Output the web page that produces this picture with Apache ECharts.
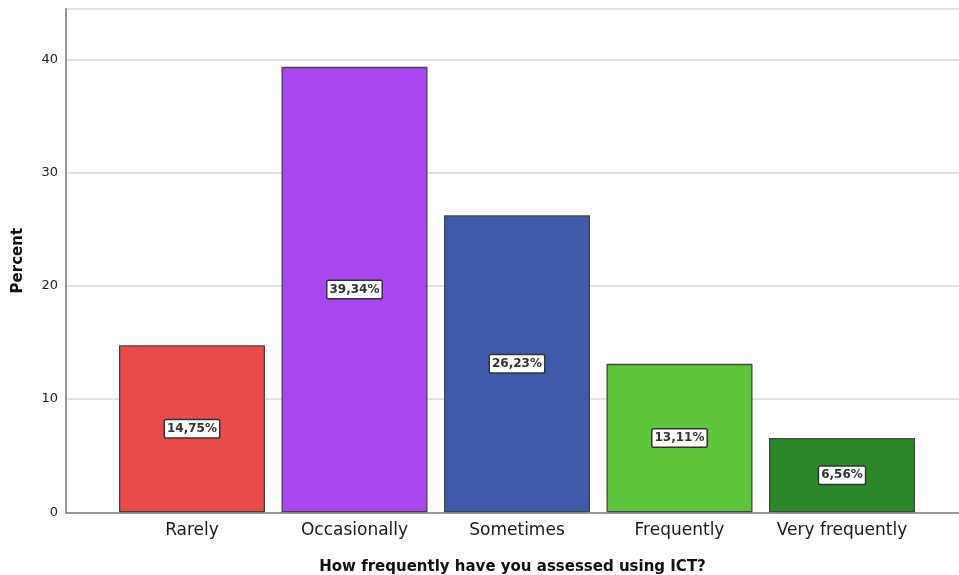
<!DOCTYPE html>
<html>
<head>
<meta charset="utf-8">
<script src="https://cdn.jsdelivr.net/npm/echarts@6/dist/echarts.min.js"></script>
<style>
  html, body { margin: 0; padding: 0; background: #fff; }
  #chart { width: 959px; height: 575px; }
</style>
</head>
<body>
<div id="chart"></div>
<script>
// Response categories and their percentages
const categories = ['Rarely', 'Occasionally', 'Sometimes', 'Frequently', 'Very frequently'];
const percents = [14.75, 39.34, 26.23, 13.11, 6.56];
const barColors = ['#e8494b', '#a847f0', '#3e5aa8', '#5ec43b', '#2a882a'];
const yTicks = [0, 10, 20, 30, 40];

const yMax = 44.45;
const font = '"DejaVu Sans", sans-serif';
const plotTop = 9;
const plotBottom = 62.7;

const chart = echarts.init(document.getElementById('chart'), null, { renderer: 'canvas' });

chart.setOption({
  animation: false,
  backgroundColor: '#ffffff',
  grid: [
    // frame: y axis, gridlines, x axis line
    { left: 66, right: 0, top: plotTop, bottom: plotBottom, outerBoundsMode: 'none' },
    // bars
    { left: 110.75, right: 35.75, top: plotTop, bottom: plotBottom, outerBoundsMode: 'none' }
  ],
  xAxis: [
    {
      gridIndex: 0, type: 'category', data: [''],
      axisLine: { show: true, lineStyle: { color: '#808080', width: 1.5 } },
      axisTick: { show: false }, axisLabel: { show: false }, splitLine: { show: false },
      name: 'How frequently have you assessed using ICT?',
      nameLocation: 'middle', nameGap: 47,
      nameTextStyle: { fontFamily: font, fontWeight: 'bold', fontSize: 15, color: '#111' }
    },
    {
      gridIndex: 1, type: 'category', data: categories,
      axisLine: { show: false }, axisTick: { show: false },
      axisLabel: { interval: 0, fontFamily: font, fontSize: 17, color: '#1a1a1a', margin: 10 }
    }
  ],
  yAxis: [
    {
      gridIndex: 0, type: 'value', min: 0, max: yMax, interval: 10,
      axisLine: { show: true, lineStyle: { color: '#999', width: 2 } },
      axisTick: { show: false },
      axisLabel: {
        fontFamily: font, fontSize: 13, fontWeight: 500, color: '#222', margin: 8,
        formatter: v => (yTicks.includes(v) ? String(v) : '')
      },
      splitLine: { show: true, lineStyle: { color: '#d9d9d9', width: 1.5 } },
      name: 'Percent', nameLocation: 'middle', nameGap: 40,
      nameTextStyle: { fontFamily: font, fontWeight: 'bold', fontSize: 15, color: '#111' }
    },
    {
      gridIndex: 1, type: 'value', min: 0, max: yMax, show: false
    }
  ],
  series: [
    {
      type: 'bar',
      xAxisIndex: 1, yAxisIndex: 1,
      barWidth: 146,
      data: percents.map((v, i) => ({
        value: v,
        itemStyle: { color: barColors[i], borderColor: '#444', borderWidth: 1.3 }
      })),
      label: {
        show: true, position: 'inside',
        formatter: p => p.value.toFixed(2).replace('.', ',') + '%',
        fontFamily: font, fontSize: 12, fontWeight: 'bold', color: '#333',
        backgroundColor: '#ffffff', borderColor: '#333', borderWidth: 1.5,
        borderRadius: 1, padding: [3, 2, 2, 2]
      }
    }
  ]
});
</script>
</body>
</html>
